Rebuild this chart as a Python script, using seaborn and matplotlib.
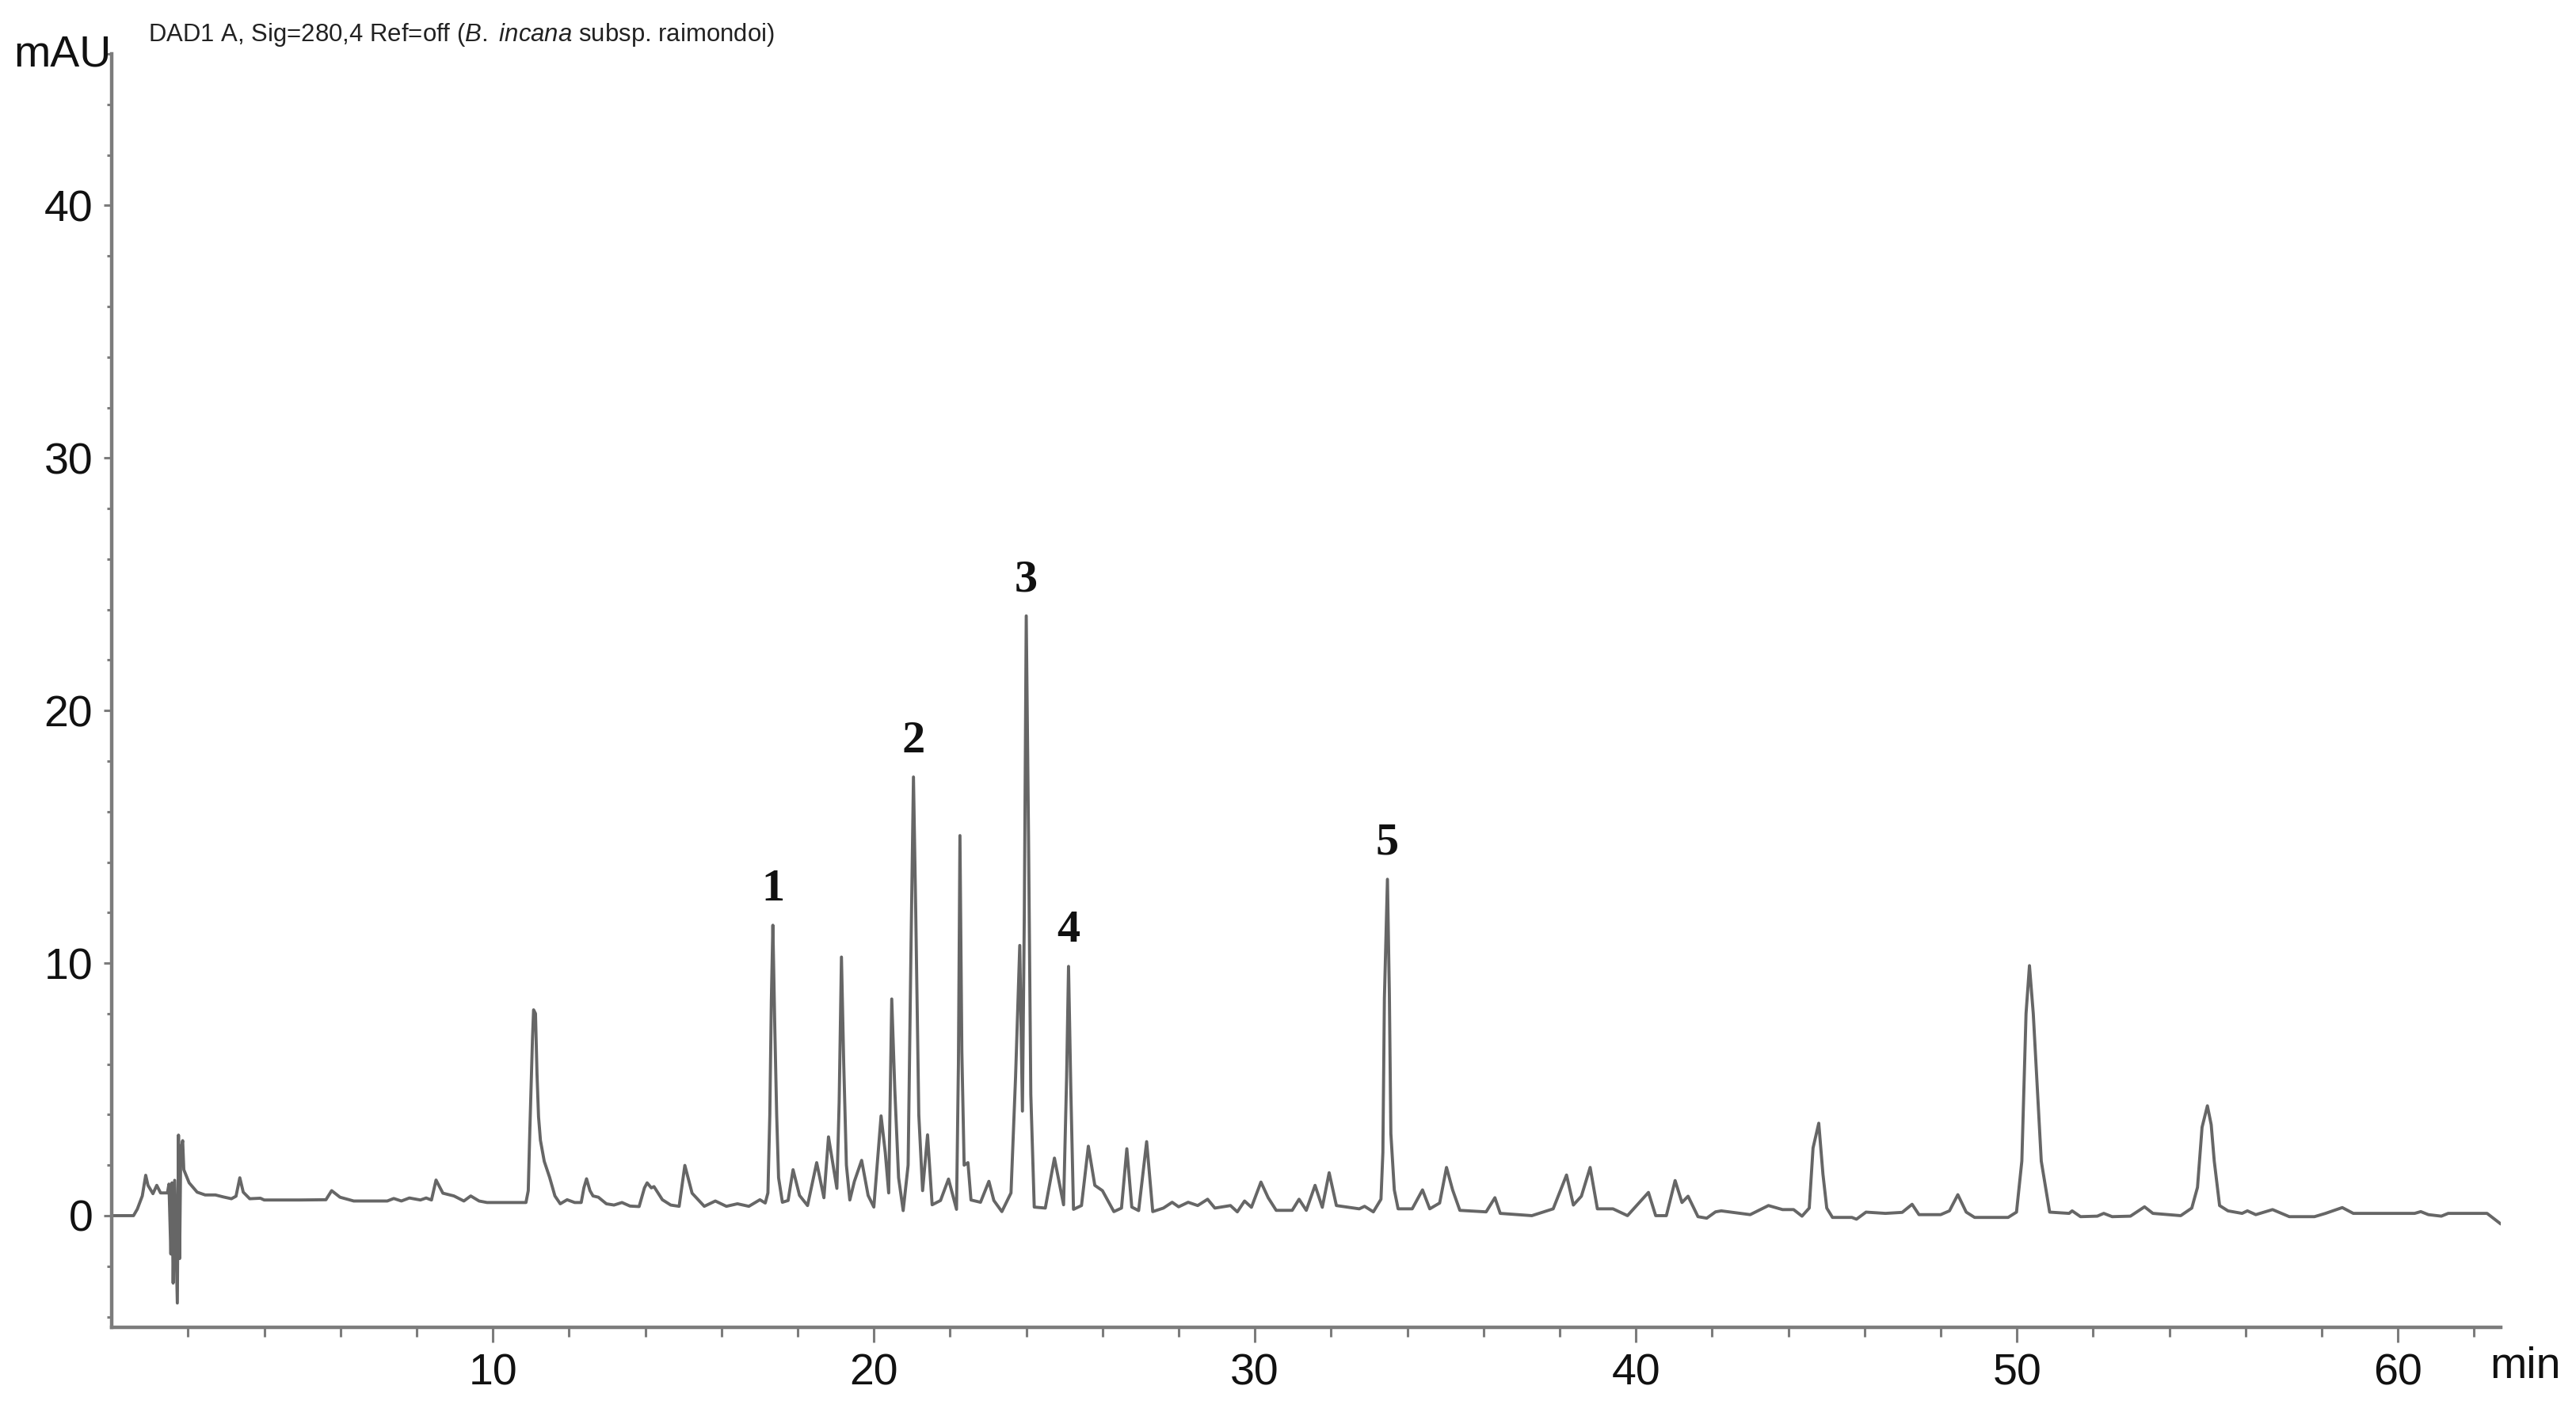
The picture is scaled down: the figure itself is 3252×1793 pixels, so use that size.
import numpy as np
import pandas as pd
import matplotlib
matplotlib.use("Agg")
import matplotlib.pyplot as plt
import seaborn as sns
from matplotlib.ticker import FixedLocator

# chromatogram trace (time in min, signal in mAU)
times = [
    0.0, 0.57, 0.67, 0.80, 0.89, 0.95, 1.08, 1.18, 1.28, 1.46, 1.50, 1.55, 1.58, 1.61, 1.65,
    1.72, 1.75, 1.78, 1.81, 1.86, 1.89, 2.03, 2.24, 2.45, 2.72, 2.93, 3.14, 3.26, 3.36, 3.45,
    3.62, 3.90, 4.00, 4.93, 5.62, 5.77, 5.99, 6.35, 7.23, 7.40, 7.60, 7.81, 8.10, 8.25, 8.39,
    8.51, 8.69, 8.98, 9.24, 9.42, 9.64, 9.85, 10.87, 10.93, 10.97, 11.04, 11.07, 11.12, 11.16,
    11.20, 11.25, 11.35, 11.49, 11.63, 11.77, 11.95, 12.15, 12.32, 12.39, 12.46, 12.55, 12.63,
    12.77, 12.98, 13.18, 13.39, 13.60, 13.84, 13.98, 14.05, 14.16, 14.23, 14.45, 14.67, 14.89,
    15.04, 15.23, 15.55, 15.84, 16.13, 16.42, 16.72, 17.01, 17.15, 17.22, 17.27, 17.31, 17.35,
    17.40, 17.45, 17.50, 17.60, 17.75, 17.88, 18.05, 18.26, 18.50, 18.69, 18.81, 19.03, 19.09,
    19.15, 19.21, 19.28, 19.37, 19.49, 19.68, 19.85, 20.00, 20.19, 20.30, 20.39, 20.47, 20.55,
    20.65, 20.77, 20.90, 20.97, 21.04, 21.10, 21.18, 21.28, 21.41, 21.53, 21.75, 21.96, 22.17,
    22.22, 22.26, 22.31, 22.37, 22.47, 22.55, 22.80, 23.02, 23.15, 23.36, 23.60, 23.72, 23.83,
    23.90, 23.95, 24.00, 24.06, 24.12, 24.21, 24.50, 24.74, 24.98, 25.06, 25.11, 25.17, 25.24,
    25.45, 25.63, 25.80, 26.00, 26.30, 26.50, 26.64, 26.77, 26.95, 27.16, 27.32, 27.60, 27.83,
    28.00, 28.25, 28.50, 28.76, 28.95, 29.36, 29.54, 29.73, 29.91, 30.16, 30.35, 30.56, 30.98,
    31.16, 31.35, 31.58, 31.77, 31.95, 32.14, 32.74, 32.88, 33.11, 33.31, 33.36, 33.40, 33.48,
    33.53, 33.57, 33.66, 33.76, 34.13, 34.40, 34.59, 34.85, 35.03, 35.19, 35.38, 36.07, 36.30,
    36.44, 37.27, 37.83, 38.18, 38.36, 38.57, 38.80, 38.99, 39.40, 39.78, 40.33, 40.52, 40.80,
    41.03, 41.21, 41.37, 41.63, 41.86, 42.09, 42.24, 42.75, 43.00, 43.48, 43.85, 44.14, 44.36,
    44.55, 44.65, 44.80, 44.91, 45.01, 45.16, 45.67, 45.79, 46.04, 46.55, 46.99, 47.25, 47.43,
    48.00, 48.23, 48.45, 48.67, 48.89, 49.77, 49.99, 50.13, 50.24, 50.33, 50.43, 50.64, 50.86,
    51.37, 51.45, 51.67, 52.11, 52.28, 52.50, 52.98, 53.35, 53.57, 54.30, 54.59, 54.74, 54.86,
    55.00, 55.10, 55.18, 55.32, 55.54, 55.91, 56.05, 56.27, 56.71, 57.15, 57.81, 58.10, 58.54,
    58.83, 60.44, 60.60, 60.80, 61.14, 61.32, 62.34, 62.70,
]
mau = [
    0.0, 0.0, 0.26, 0.78, 1.6, 1.2, 0.87, 1.2, 0.9, 0.9, 1.25, -1.52, 1.3, -2.67, 1.4,
    -3.46, 3.19, -1.7, 2.6, 2.97, 1.82, 1.3, 0.93, 0.82, 0.82, 0.74, 0.67, 0.77, 1.5, 0.93,
    0.67, 0.69, 0.62, 0.62, 0.63, 0.99, 0.73, 0.58, 0.58, 0.68, 0.58, 0.7, 0.62, 0.7, 0.62,
    1.41, 0.89, 0.78, 0.58, 0.78, 0.58, 0.52, 0.52, 0.99, 3.29, 6.95, 8.15, 8.0, 5.6,
    3.92, 2.98, 2.15, 1.52, 0.78, 0.47, 0.63, 0.52, 0.52, 1.1, 1.46, 0.99, 0.78,
    0.73, 0.47, 0.42, 0.52, 0.38, 0.36, 1.1, 1.3, 1.1, 1.15, 0.63, 0.42, 0.37,
    1.99, 0.89, 0.37, 0.58, 0.37, 0.47, 0.37, 0.63, 0.5, 0.9, 4.0, 8.5, 11.5,
    7.5, 4.0, 1.5, 0.53, 0.6, 1.82, 0.8, 0.4, 2.1, 0.71, 3.12, 1.08, 4.5,
    10.24, 6.0, 2.0, 0.62, 1.36, 2.19, 0.8, 0.34, 3.95, 2.5, 0.9, 8.58, 5.0,
    1.5, 0.2, 2.0, 10.0, 17.37, 12.0, 4.0, 0.99, 3.2, 0.43, 0.6, 1.45, 0.25,
    6.0, 15.05, 6.5, 2.0, 2.1, 0.62, 0.53, 1.36, 0.6, 0.16, 0.9, 5.5, 10.7,
    4.14, 12.0, 23.75, 15.0, 4.8, 0.34, 0.3, 2.28, 0.43, 5.5, 9.87, 5.0, 0.25,
    0.4, 2.75, 1.2, 0.99, 0.16, 0.3, 2.65, 0.34, 0.2, 2.93, 0.16, 0.3, 0.53,
    0.35, 0.53, 0.4, 0.65, 0.3, 0.4, 0.15, 0.58, 0.33, 1.33, 0.71, 0.21, 0.21,
    0.65, 0.21, 1.2, 0.33, 1.7, 0.4, 0.27, 0.37, 0.15, 0.65, 2.5, 8.6, 13.32,
    8.8, 3.25, 1.02, 0.27, 0.27, 1.02, 0.27, 0.5, 1.91, 1.02, 0.21, 0.15, 0.71,
    0.09, 0.0, 0.27, 1.61, 0.42, 0.77, 1.91, 0.27, 0.27, 0.0, 0.92, 0.0, 0.0,
    1.39, 0.52, 0.77, -0.04, -0.1, 0.15, 0.19, 0.09, 0.04, 0.4, 0.24, 0.24, -0.02,
    0.3, 2.68, 3.66, 1.64, 0.3, -0.07, -0.07, -0.14, 0.14, 0.09, 0.13, 0.45, 0.04,
    0.04, 0.19, 0.83, 0.14, -0.07, -0.07, 0.14, 2.16, 8.0, 9.9, 8.0, 2.16, 0.14,
    0.09, 0.19, -0.04, -0.02, 0.09, -0.04, -0.02, 0.35, 0.09, 0.0, 0.3, 1.12, 3.5,
    4.35, 3.6, 2.16, 0.4, 0.19, 0.09, 0.19, 0.04, 0.24, -0.04, -0.04, 0.09, 0.32,
    0.09, 0.09, 0.16, 0.04, -0.02, 0.09, 0.09, -0.33,
]

# labelled compounds
peak_labels = ["1", "2", "3", "4", "5"]
peak_times = [17.35, 21.04, 24.00, 25.11, 33.48]

x_major = [10, 20, 30, 40, 50, 60]
y_major = [0, 10, 20, 30, 40]

sns.set_style("ticks")
plt.rcParams["font.family"] = ["Liberation Sans", "DejaVu Sans"]
plt.rcParams["mathtext.fontset"] = "custom"
plt.rcParams["mathtext.rm"] = "Liberation Sans"
plt.rcParams["mathtext.it"] = "Liberation Sans:italic"

df = pd.DataFrame({"time": times, "mAU": mau})

fig = plt.figure(figsize=(16.26, 8.965), dpi=200)
ax = fig.add_axes([0.0434, 0.0653, 0.9274, 0.8967])

line_col = "#666666"
axis_col = "#7c7c7c"

sns.lineplot(data=df, x="time", y="mAU", estimator=None, sort=False,
             color=line_col, linewidth=1.4, ax=ax)

ax.set_xlim(0, 62.7)
ax.set_ylim(-4.42, 46)
sns.despine(ax=ax)
for side in ["left", "bottom"]:
    ax.spines[side].set_color(axis_col)
    ax.spines[side].set_linewidth(1.6)

ax.xaxis.set_major_locator(FixedLocator(x_major))
ax.xaxis.set_minor_locator(FixedLocator([m for m in range(2, 63, 2) if m % 10]))
ax.yaxis.set_major_locator(FixedLocator(y_major))
ax.yaxis.set_minor_locator(FixedLocator([m for m in range(-4, 47, 2) if m % 10]))

ax.tick_params(axis="x", which="major", length=6.8, width=1.1, color=axis_col,
               labelsize=20, pad=5, labelcolor="#111111")
ax.tick_params(axis="x", which="minor", length=4.3, width=1.1, color=axis_col)
ax.tick_params(axis="y", which="major", length=3.6, width=1.1, color=axis_col,
               labelsize=20, pad=5, labelcolor="#111111")
ax.tick_params(axis="y", which="minor", length=2.0, width=1.1, color=axis_col)
ax.set_xlabel("")
ax.set_ylabel("")

# peak numbers
t_arr = np.array(times)
for lab, pt in zip(peak_labels, peak_times):
    top = mau[int(np.argmin(np.abs(t_arr - pt)))]
    ax.annotate(lab, xy=(pt, top), xytext=(0, 7), textcoords="offset points",
                ha="center", va="bottom", fontsize=21, fontweight="bold",
                family=["Liberation Serif", "DejaVu Serif"], color="#111111")

fig.text(0.0052, 0.9537, "mAU", fontsize=20, color="#111111", ha="left", va="baseline")
fig.text(0.9665, 0.0296, "min", fontsize=20, color="#111111", ha="left", va="baseline")
fig.text(0.0574, 0.971, r"DAD1 A, Sig=280,4 Ref=off ($\mathit{B.}$ $\mathit{incana}$ subsp. raimondoi)",
         fontsize=11.2, color="#222222", ha="left", va="baseline")

fig.savefig("out.png", dpi=200, facecolor="white")
